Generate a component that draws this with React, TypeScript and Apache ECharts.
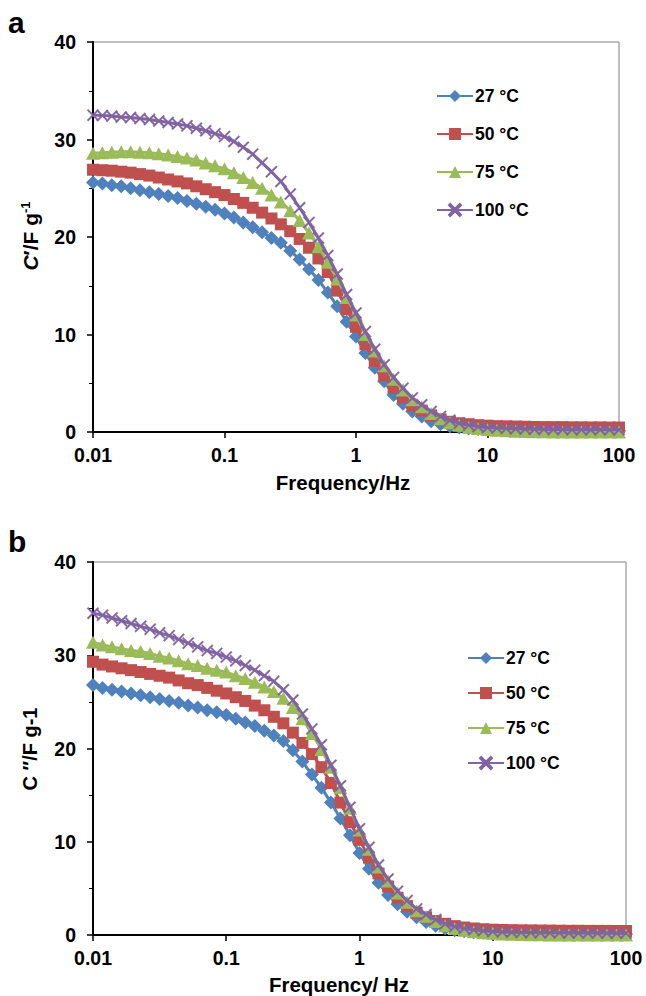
import React, { useEffect, useRef } from 'react';
import * as echarts from 'echarts';

const frequencies = [
  0.01, 0.01179, 0.01389, 0.01638, 0.01931, 0.02276, 0.02683, 0.03162, 0.03728, 0.04394, 0.05179, 0.06105, 0.07197, 0.08483,
  0.1, 0.1179, 0.1389, 0.1638, 0.1931, 0.2276, 0.2683, 0.3162, 0.3728, 0.4394, 0.5179, 0.6105, 0.7197, 0.8483,
  1, 1.179, 1.389, 1.638, 1.931, 2.276, 2.683, 3.162, 3.728, 4.394, 5.179, 6.105, 7.197, 8.483,
  10, 11.79, 13.89, 16.38, 19.31, 22.76, 26.83, 31.62, 37.28, 43.94, 51.79, 61.05, 71.97, 84.83, 100,
];

const seriesNames = ['27 °C', '50 °C', '75 °C', '100 °C'];

// Panel a: C' (F g-1)
const panelA27 = [
  25.6, 25.5, 25.3, 25.2, 25.0, 24.8, 24.6, 24.4, 24.2, 24.0, 23.7, 23.4, 23.1, 22.8,
  22.4, 22.0, 21.5, 21.0, 20.5, 19.9, 19.4, 18.6, 17.7, 16.7, 15.6, 14.3, 12.9, 11.3,
  9.8, 8.1, 6.6, 5.2, 3.8, 2.9, 2.1, 1.6, 1.1, 0.8, 0.6, 0.45, 0.35, 0.3,
  0.25, 0.22, 0.2, 0.2, 0.18, 0.18, 0.17, 0.16, 0.16, 0.15, 0.15, 0.15, 0.14, 0.14, 0.14,
];
const panelA50 = [
  26.9, 26.85, 26.8, 26.7, 26.6, 26.45, 26.3, 26.1, 25.9, 25.7, 25.5, 25.2, 24.9, 24.6,
  24.3, 23.9, 23.5, 23.0, 22.5, 21.9, 21.3, 20.6, 19.8, 18.9, 17.8, 16.4, 14.5, 12.6,
  10.8, 9.0, 7.3, 5.8, 4.5, 3.5, 2.7, 2.2, 1.7, 1.3, 1.05, 0.9, 0.8, 0.7,
  0.65, 0.6, 0.58, 0.56, 0.54, 0.52, 0.5, 0.5, 0.5, 0.48, 0.48, 0.47, 0.47, 0.46, 0.46,
];
const panelA75 = [
  28.6, 28.65, 28.7, 28.75, 28.75, 28.7, 28.65, 28.55, 28.4, 28.25, 28.1, 27.9, 27.6, 27.3,
  27.0, 26.6, 26.1, 25.6, 25.0, 24.3, 23.6, 22.7, 21.7, 20.4, 19.0, 17.4, 15.7, 13.8,
  12.0, 10.0, 8.3, 6.8, 5.4, 4.3, 3.3, 2.6, 1.9, 1.35, 0.95, 0.7, 0.5, 0.35,
  0.25, 0.18, 0.12, 0.08, 0.05, 0.03, 0.02, 0.01, 0, 0, 0, 0, 0, 0, 0,
];
const panelA100 = [
  32.5, 32.45, 32.4, 32.3, 32.25, 32.15, 32.05, 31.9, 31.75, 31.6, 31.4, 31.15, 30.9, 30.6,
  30.3, 29.8, 29.2, 28.5, 27.6, 26.7, 25.7, 24.4, 23.0, 21.5, 19.9, 18.1, 16.2, 14.1,
  12.2, 10.3, 8.5, 6.9, 5.6, 4.5, 3.5, 2.8, 2.1, 1.6, 1.2, 0.9, 0.7, 0.55,
  0.45, 0.4, 0.36, 0.33, 0.3, 0.28, 0.27, 0.26, 0.25, 0.24, 0.24, 0.23, 0.23, 0.22, 0.22,
];

// Panel b: C'' (F g-1)
const panelB27 = [
  26.8, 26.5, 26.3, 26.1, 25.9, 25.7, 25.5, 25.3, 25.1, 24.9, 24.6, 24.4, 24.1, 23.9,
  23.6, 23.2, 22.8, 22.4, 21.9, 21.4, 20.8, 19.8, 18.6, 17.2, 15.8, 14.2, 12.5, 10.7,
  8.8, 7.1, 5.6, 4.3, 3.3, 2.5, 1.9, 1.4, 1.0, 0.7, 0.5, 0.4, 0.3, 0.25,
  0.2, 0.18, 0.16, 0.15, 0.14, 0.13, 0.12, 0.12, 0.11, 0.11, 0.1, 0.1, 0.1, 0.1, 0.1,
];
const panelB50 = [
  29.3, 29.0, 28.8, 28.6, 28.4, 28.2, 28.0, 27.8, 27.6, 27.3, 27.0, 26.8, 26.5, 26.2,
  25.9, 25.5, 25.1, 24.6, 24.1, 23.4, 22.7, 21.7, 20.6, 19.4, 18.0, 16.3, 14.2, 12.1,
  10.2, 8.3, 6.6, 5.2, 4.0, 3.1, 2.4, 1.9, 1.5, 1.2, 0.95, 0.8, 0.7, 0.62,
  0.57, 0.54, 0.52, 0.5, 0.49, 0.48, 0.47, 0.46, 0.45, 0.45, 0.44, 0.44, 0.44, 0.43, 0.43,
];
const panelB75 = [
  31.4, 31.1, 30.9, 30.7, 30.5, 30.4, 30.2, 29.9, 29.7, 29.4, 29.1, 28.9, 28.6, 28.4,
  28.2, 27.8, 27.5, 27.1, 26.6, 26.1, 25.4, 24.4, 23.2, 21.6, 19.9, 18.0, 15.8, 13.6,
  11.25, 9.2, 7.3, 5.8, 4.5, 3.5, 2.6, 2.0, 1.45, 1.0, 0.7, 0.5, 0.35, 0.25,
  0.18, 0.12, 0.08, 0.05, 0.03, 0.02, 0.01, 0, 0, 0, 0, 0, 0, 0, 0,
];
const panelB100 = [
  34.5, 34.3, 34.0, 33.7, 33.4, 33.1, 32.8, 32.4, 32.1, 31.7, 31.3, 30.9, 30.5, 30.2,
  29.8, 29.4, 28.9, 28.4, 27.8, 27.2, 26.3, 25.2, 23.7, 22.1, 20.4, 18.2, 16.0, 13.7,
  11.4, 9.4, 7.5, 6.0, 4.7, 3.7, 2.8, 2.2, 1.65, 1.2, 0.9, 0.7, 0.55, 0.45,
  0.38, 0.33, 0.3, 0.28, 0.26, 0.25, 0.24, 0.23, 0.22, 0.22, 0.21, 0.21, 0.2, 0.2, 0.2,
];

const yTickValues = { min: 0, max: 40, interval: 10 };

const colors = ['#4F81BD', '#C0504D', '#9BBB59', '#8064A2'];
const symbols = [
  'diamond',
  'rect',
  'triangle',
  'path://M1,0 L5,4 L9,0 L10,1 L6,5 L10,9 L9,10 L5,6 L1,10 L0,9 L4,5 L0,1 Z',
];
const symbolSizes = [[14, 14], 12, [14, 13], 12];

const FONT = '"Liberation Sans", Arial, Helvetica, sans-serif';

export default function App() {
  const ref = useRef<HTMLDivElement>(null);

  useEffect(() => {
    if (!ref.current) return;
    const chart = echarts.init(ref.current, null, { renderer: 'svg' });

    const fmtLog = (v: number) => String(parseFloat(Number(v).toPrecision(3)));

    const makeX = (gridIndex: number) => ({
      type: 'log',
      logBase: 10,
      gridIndex,
      min: 0.01,
      max: 100,
      axisLine: { onZero: false, lineStyle: { color: '#000', width: 2 } },
      axisTick: { show: true, inside: false, length: 6, lineStyle: { color: '#000', width: 1.5 } },
      minorTick: { show: false },
      splitLine: { show: false },
      axisLabel: {
        color: '#000',
        fontSize: 19.5,
        fontWeight: 'bold',
        fontFamily: FONT,
        margin: 13,
        formatter: fmtLog,
      },
    });

    const makeY = (gridIndex: number) => ({
      type: 'value',
      gridIndex,
      min: yTickValues.min,
      max: yTickValues.max,
      interval: yTickValues.interval,
      axisLine: { show: true, onZero: false, lineStyle: { color: '#000', width: 2 } },
      axisTick: { show: true, inside: false, length: 6, lineStyle: { color: '#000', width: 1.5 } },
      minorTick: { show: true, splitNumber: 2, length: 4, lineStyle: { color: '#000', width: 1 } },
      splitLine: { show: false },
      axisLabel: {
        color: '#000',
        fontSize: 19.5,
        fontWeight: 'bold',
        fontFamily: FONT,
        margin: 17,
      },
    });

    const panelData = [
      [panelA27, panelA50, panelA75, panelA100],
      [panelB27, panelB50, panelB75, panelB100],
    ];

    const series: any[] = [];
    panelData.forEach((panel, p) => {
      panel.forEach((vals, i) => {
        series.push({
          type: 'line',
          name: seriesNames[i],
          xAxisIndex: p,
          yAxisIndex: p,
          data: frequencies.map((f, k) => [f, vals[k]]),
          symbol: symbols[i],
          symbolSize: symbolSizes[i],
          showAllSymbol: true,
          clip: false,
          lineStyle: { color: colors[i], width: 3 },
          itemStyle: { color: colors[i], borderColor: colors[i], borderWidth: i === 3 ? 0.3 : 0 },
          emphasis: { disabled: true },
          z: 2 + i,
        });
      });
    });

    const legendText = {
      color: '#000',
      fontSize: 17.5,
      fontWeight: 'bold',
      fontFamily: FONT,
      padding: [0, 0, 0, -3],
    };

    const option: any = {
      animation: false,
      backgroundColor: '#fff',
      grid: [
        { left: 93, top: 42, width: 526, height: 390, show: true, borderColor: '#808080', borderWidth: 1, backgroundColor: 'transparent' },
        { left: 93, top: 562, width: 533, height: 373, show: true, borderColor: '#808080', borderWidth: 1, backgroundColor: 'transparent' },
      ],
      xAxis: [makeX(0), makeX(1)],
      yAxis: [makeY(0), makeY(1)],
      legend: [
        {
          orient: 'vertical',
          left: 431,
          top: 82,
          itemWidth: 36,
          itemHeight: 15,
          itemGap: 20,
          selectedMode: false,
          data: seriesNames,
          textStyle: legendText,
        },
        {
          orient: 'vertical',
          left: 462,
          top: 644,
          itemWidth: 36,
          itemHeight: 15,
          itemGap: 17,
          selectedMode: false,
          data: seriesNames,
          textStyle: legendText,
        },
      ],
      graphic: [
        { type: 'text', left: 8, top: 7, style: { text: 'a', fontSize: 30, fontWeight: 'bold', fontFamily: FONT, fill: '#000' } },
        { type: 'text', left: 8, top: 526, style: { text: 'b', fontSize: 30, fontWeight: 'bold', fontFamily: FONT, fill: '#000' } },
        {
          type: 'text',
          x: 343,
          y: 482,
          style: { text: 'Frequency/Hz', fontSize: 20.5, fontWeight: 'bold', fontFamily: FONT, fill: '#000', align: 'center', verticalAlign: 'middle' },
        },
        {
          type: 'text',
          x: 339,
          y: 984,
          style: { text: 'Frequency/ Hz', fontSize: 20.5, fontWeight: 'bold', fontFamily: FONT, fill: '#000', align: 'center', verticalAlign: 'middle' },
        },
        {
          type: 'text',
          x: 30,
          y: 236,
          rotation: Math.PI / 2,
          style: {
            text: '{i|C}′/F g{s|-1}',
            fontSize: 21,
            fontWeight: 'bold',
            fontFamily: FONT,
            fill: '#000',
            align: 'center',
            verticalAlign: 'middle',
            rich: {
              i: { fontSize: 21, fontWeight: 'bold', fontStyle: 'italic', fontFamily: FONT, fill: '#000' },
              s: { fontSize: 13, fontWeight: 'bold', fontFamily: FONT, fill: '#000', verticalAlign: 'top', padding: [0, 0, 9, 0] },
            },
          },
        },
        {
          type: 'text',
          x: 30,
          y: 749,
          rotation: Math.PI / 2,
          style: { text: 'C ″/F g-1', fontSize: 20, fontWeight: 'bold', fontFamily: FONT, fill: '#000', align: 'center', verticalAlign: 'middle' },
        },
      ],
      series,
    };

    chart.setOption(option);
    return () => chart.dispose();
  }, []);

  return <div ref={ref} style={{ position: 'fixed', left: 0, top: 0, width: 646, height: 996 }} />;
}
